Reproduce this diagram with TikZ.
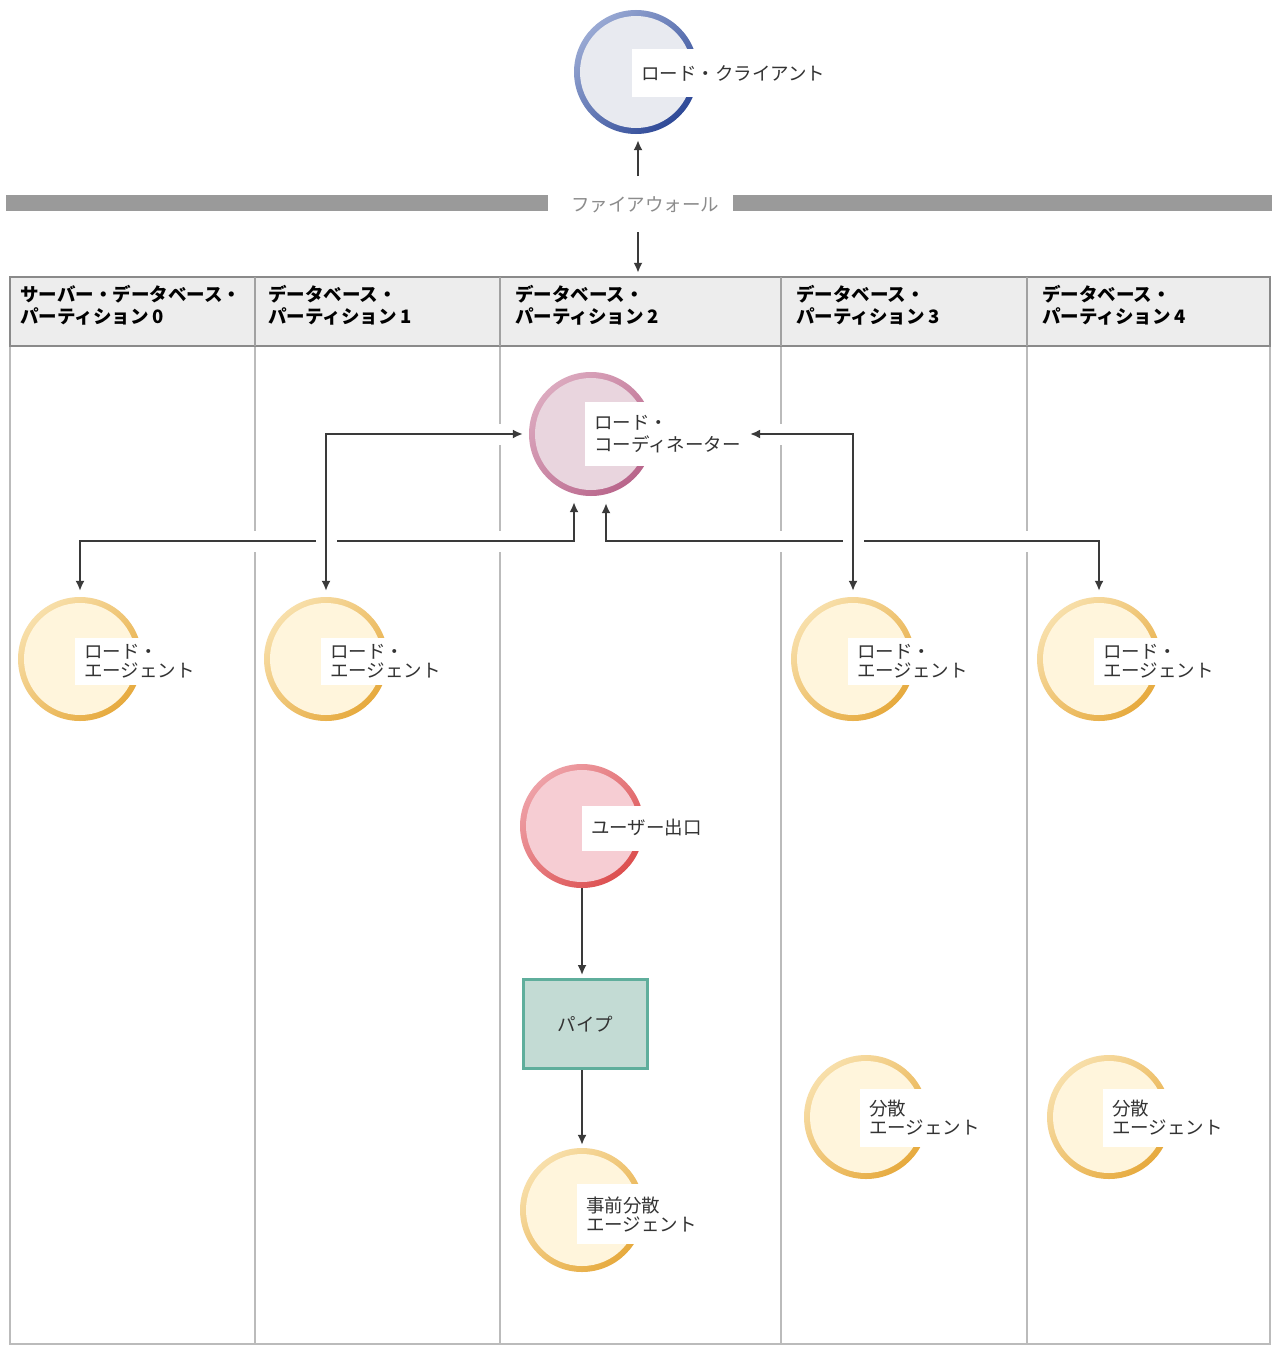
\documentclass[tikz,border=0pt]{standalone}
\usepackage{fontspec}
\newfontfamily\jp{Noto Sans CJK JP}
\usetikzlibrary{arrows.meta}
\pgfdeclarelayer{gridlayer}
\pgfdeclarelayer{connlayer}
\pgfsetlayers{gridlayer,connlayer,main}
\definecolor{txt}{HTML}{333333}
\definecolor{conncol}{HTML}{3A3A3A}
\definecolor{gridcol}{HTML}{BBBBBB}
\definecolor{hdrfill}{HTML}{EDEDED}
\definecolor{hdrline}{HTML}{8A8A8A}
\definecolor{fwbar}{HTML}{9A9A9A}
\definecolor{fwtxt}{HTML}{8C8C8C}
\definecolor{cliL}{HTML}{9AAAD4}
\definecolor{cliD}{HTML}{2C4796}
\definecolor{cliF}{HTML}{E8EAF0}
\definecolor{coL}{HTML}{DCAABF}
\definecolor{coD}{HTML}{B8648A}
\definecolor{coF}{HTML}{E9D5DE}
\definecolor{agL}{HTML}{F8E0AC}
\definecolor{agD}{HTML}{E6A93C}
\definecolor{agF}{HTML}{FFF5DC}
\definecolor{ueL}{HTML}{EEA2A8}
\definecolor{ueD}{HTML}{DC4E4E}
\definecolor{ueF}{HTML}{F6CDD3}
\definecolor{pipeF}{HTML}{C3DBD4}
\definecolor{pipeD}{HTML}{5FAE9C}
\tikzset{
  ringnode/.style n args={3}{circle, minimum size=124pt, inner sep=0pt,
    path picture={
      \shade[top color=#1, bottom color=#2, shading angle=45]
        ([xshift=-2pt,yshift=-2pt]path picture bounding box.south west) rectangle
        ([xshift=2pt,yshift=2pt]path picture bounding box.north east);
      \fill[#3] (path picture bounding box.center) circle (56pt);
    }},
  lbl/.style={fill=white, anchor=west, align=left, inner xsep=9pt, inner ysep=0pt,
    text=txt, font=\jp\fontsize{18.5}{19}\selectfont},
  hdrtxt/.style={anchor=west, align=left, inner sep=0pt, text=black,
    font=\jp\bfseries\fontsize{18.5}{22}\selectfont},
  arr/.style={draw=conncol, line width=1.8pt, -{Latex[length=10pt,width=9pt]}},
  arrtwo/.style={draw=conncol, line width=1.8pt, {Latex[length=10pt,width=9pt]}-{Latex[length=10pt,width=9pt]},
    preaction={draw=white, line width=21pt, -, line cap=butt}},
  gridline/.style={draw=gridcol, line width=2pt},
}
\begin{document}
\begin{tikzpicture}[x=1pt,y=-1pt, font=\jp]
\useasboundingbox (0,0) rectangle (1276,1346);
\begin{pgfonlayer}{gridlayer}
\fill[white] (0,0) rectangle (1276,1346);
% table body grid
\draw[gridline] (10,346) -- (10,1344) -- (1270,1344) -- (1270,346);
\foreach \x in {255,500,781,1027} { \draw[gridline] (\x,346) -- (\x,1344); }
\end{pgfonlayer}

% firewall
\fill[fwbar] (6,195) rectangle (548,211);
\fill[fwbar] (733,195) rectangle (1272,211);
\node[text=fwtxt, font=\jp\fontsize{18.5}{19}\selectfont, inner sep=0pt] (fw) at (645,205) {ファイアウォール};

% header
\node[draw=hdrline, fill=hdrfill, line width=2.5pt, minimum width=1260pt, minimum height=69pt, inner sep=0pt] (hdr) at (640,311.5) {};
\foreach \x in {255,500,781,1027} { \draw[draw=hdrline!80, line width=2pt] (\x,277) -- (\x,346); }
\node[hdrtxt] (h0) at (20,305) {サーバー・データベース・\\パーティション 0};
\node[hdrtxt] (h1) at (268,305) {データベース・\\パーティション 1};
\node[hdrtxt] (h2) at (515,305) {データベース・\\パーティション 2};
\node[hdrtxt] (h3) at (796,305) {データベース・\\パーティション 3};
\node[hdrtxt] (h4) at (1042,305) {データベース・\\パーティション 4};

% nodes
\node[ringnode={cliL}{cliD}{cliF}] (client) at (636,72) {};
\node[ringnode={coL}{coD}{coF}] (coord) at (591,434) {};
\node[ringnode={agL}{agD}{agF}] (a0) at (80,659) {};
\node[ringnode={agL}{agD}{agF}] (a1) at (326,659) {};
\node[ringnode={agL}{agD}{agF}] (a3) at (853,659) {};
\node[ringnode={agL}{agD}{agF}] (a4) at (1099,659) {};
\node[ringnode={ueL}{ueD}{ueF}] (ue) at (582,826) {};
\node[ringnode={agL}{agD}{agF}] (pa) at (582,1210) {};
\node[ringnode={agL}{agD}{agF}] (d3) at (866,1117) {};
\node[ringnode={agL}{agD}{agF}] (d4) at (1109,1117) {};
\node[draw=pipeD, fill=pipeF, line width=3pt, minimum width=124pt, minimum height=89pt,
      text=txt, font=\jp\fontsize{18.5}{19}\selectfont] (pipe) at (585.5,1024) {パイプ};

% labels
\node[lbl, minimum height=47pt] (lclient) at (632,73) {ロード・クライアント};
\node[lbl, minimum height=64pt, font=\jp\fontsize{18.5}{22}\selectfont] (lcoord) at (585,434) {ロード・\\コーディネーター};
\node[lbl, minimum height=47pt] (la0) at (75,661) {ロード・\\エージェント};
\node[lbl, minimum height=47pt] (la1) at (321,661) {ロード・\\エージェント};
\node[lbl, minimum height=47pt] (la3) at (848,661) {ロード・\\エージェント};
\node[lbl, minimum height=47pt] (la4) at (1094,661) {ロード・\\エージェント};
\node[lbl, minimum height=45pt] (lue) at (582,828) {ユーザー出口};
\node[lbl, minimum height=60pt] (lpa) at (577,1214) {事前分散\\エージェント};
\node[lbl, minimum height=58pt] (ld3) at (860,1118) {分散\\エージェント};
\node[lbl, minimum height=58pt] (ld4) at (1103,1118) {分散\\エージェント};

% connectors
\coordinate (fwtop) at (638,176);
\coordinate (fwbot) at (638,232);
\coordinate (jL) at (574,541);
\coordinate (jR) at (606,541);
\begin{pgfonlayer}{connlayer}
\draw[arr, shorten >=6pt] (fwtop) -- (fwtop |- client.south);
\draw[arr, shorten >=3pt] (fwbot) -- (fwbot |- hdr.north);
\draw[arrtwo, shorten <=6pt, shorten >=6pt] (a0.north) |- (jL) -- (jL |- coord.south);
\draw[arrtwo, shorten <=6pt, shorten >=7pt] (a4.north) |- (jR) -- (jR |- coord.south);
\draw[arrtwo, shorten <=6pt, shorten >=6pt] (a1.north) |- (coord.west);
\draw[arr, shorten >=3pt] (ue.south) -- (ue.south |- pipe.north);
\draw[arr, shorten >=3pt] (pipe.south -| pa.north) -- (pa.north);
\end{pgfonlayer}
\draw[arrtwo, shorten <=6pt, shorten >=0pt] (a3.north) |- (lcoord.east |- coord.center);
\end{tikzpicture}
\end{document}
